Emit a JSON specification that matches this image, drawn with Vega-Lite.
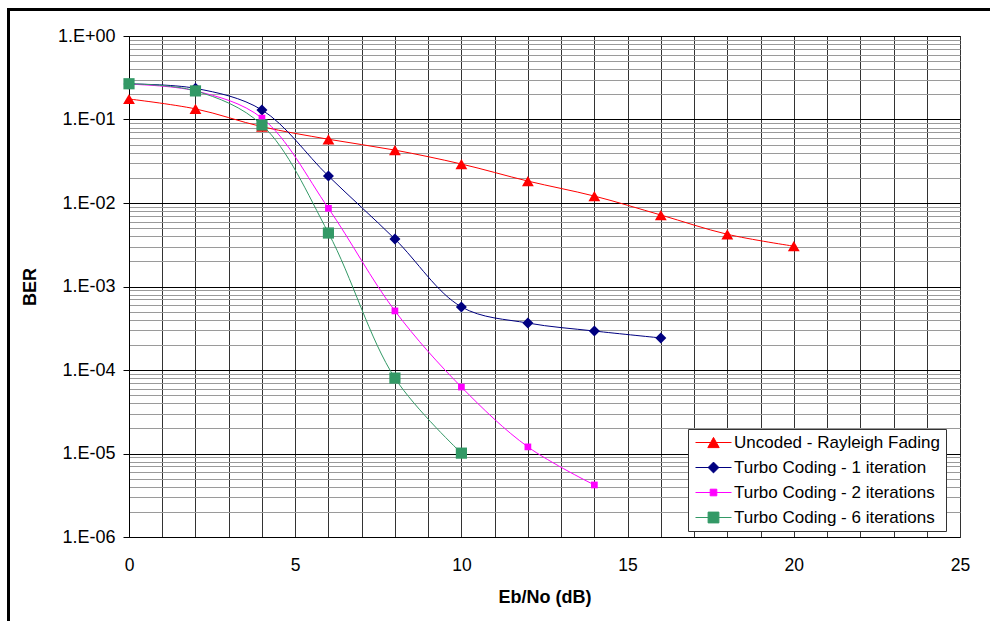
{
  "$schema": "https://vega.github.io/schema/vega-lite/v6.json",
  "autosize": {"type": "none"},
  "width": 831,
  "height": 501,
  "padding": {"left": 129, "top": 36, "right": 30, "bottom": 84},
  "background": "white",
  "config": {
    "font": "Liberation Sans",
    "view": {"stroke": "#555", "strokeWidth": 1}
  },
  "resolve": {"axis": {"x": "independent"}},
  "data": {
    "values": [
      {"s": "Uncoded - Rayleigh Fading", "x": 0, "ber": 0.176},
      {"s": "Uncoded - Rayleigh Fading", "x": 2, "ber": 0.134},
      {"s": "Uncoded - Rayleigh Fading", "x": 4, "ber": 0.082},
      {"s": "Uncoded - Rayleigh Fading", "x": 6, "ber": 0.058},
      {"s": "Uncoded - Rayleigh Fading", "x": 8, "ber": 0.043},
      {"s": "Uncoded - Rayleigh Fading", "x": 10, "ber": 0.0293},
      {"s": "Uncoded - Rayleigh Fading", "x": 12, "ber": 0.0183},
      {"s": "Uncoded - Rayleigh Fading", "x": 14, "ber": 0.0121},
      {"s": "Uncoded - Rayleigh Fading", "x": 16, "ber": 0.00718},
      {"s": "Uncoded - Rayleigh Fading", "x": 18, "ber": 0.00422},
      {"s": "Uncoded - Rayleigh Fading", "x": 20, "ber": 0.00304},
      {"s": "Turbo Coding - 1 iteration", "x": 0, "ber": 0.266},
      {"s": "Turbo Coding - 1 iteration", "x": 2, "ber": 0.236},
      {"s": "Turbo Coding - 1 iteration", "x": 4, "ber": 0.13},
      {"s": "Turbo Coding - 1 iteration", "x": 6, "ber": 0.021},
      {"s": "Turbo Coding - 1 iteration", "x": 8, "ber": 0.0037},
      {"s": "Turbo Coding - 1 iteration", "x": 10, "ber": 0.00057},
      {"s": "Turbo Coding - 1 iteration", "x": 12, "ber": 0.000365},
      {"s": "Turbo Coding - 1 iteration", "x": 14, "ber": 0.000293},
      {"s": "Turbo Coding - 1 iteration", "x": 16, "ber": 0.000242},
      {"s": "Turbo Coding - 2 iterations", "x": 0, "ber": 0.265},
      {"s": "Turbo Coding - 2 iterations", "x": 2, "ber": 0.22},
      {"s": "Turbo Coding - 2 iterations", "x": 4, "ber": 0.104},
      {"s": "Turbo Coding - 2 iterations", "x": 6, "ber": 0.00864},
      {"s": "Turbo Coding - 2 iterations", "x": 8, "ber": 0.00051},
      {"s": "Turbo Coding - 2 iterations", "x": 10, "ber": 0.0000625},
      {"s": "Turbo Coding - 2 iterations", "x": 12, "ber": 0.000012},
      {"s": "Turbo Coding - 2 iterations", "x": 14, "ber": 0.0000042},
      {"s": "Turbo Coding - 6 iterations", "x": 0, "ber": 0.268},
      {"s": "Turbo Coding - 6 iterations", "x": 2, "ber": 0.22},
      {"s": "Turbo Coding - 6 iterations", "x": 4, "ber": 0.086},
      {"s": "Turbo Coding - 6 iterations", "x": 6, "ber": 0.00437},
      {"s": "Turbo Coding - 6 iterations", "x": 8, "ber": 0.00008},
      {"s": "Turbo Coding - 6 iterations", "x": 10, "ber": 0.0000101}
    ]
  },
  "layer": [
    {
      "mark": {"type": "rect", "fill": null, "stroke": "black", "strokeWidth": 2, "clip": false},
      "encoding": {
        "x": {"datum": -3.63, "type": "quantitative", "axis": null},
        "x2": {"datum": 27},
        "y": {"datum": 2.09, "type": "quantitative"},
        "y2": {"datum": 1e-9}
      }
    },
    {
      "mark": {"type": "line", "strokeWidth": 1, "interpolate": "catmull-rom"},
      "encoding": {
        "x": {
          "field": "x", "type": "quantitative",
          "scale": {"domain": [0, 25], "nice": false, "zero": false},
          "axis": {
            "orient": "bottom",
            "values": [0,1,2,3,4,5,6,7,8,9,10,11,12,13,14,15,16,17,18,19,20,21,22,23,24,25],
            "grid": true, "gridColor": "#333", "gridWidth": 1, "gridOpacity": 1,
            "ticks": false, "domain": false, "labels": false, "title": null
          }
        },
        "y": {
          "field": "ber", "type": "quantitative",
          "scale": {"type": "log", "domain": [0.000001, 1], "nice": false},
          "axis": {
            "values": [0.000001,0.000002,0.000003,0.000004,0.000005,0.000006,0.000007,0.000008,0.000009,
                       0.00001,0.00002,0.00003,0.00004,0.00005,0.00006,0.00007,0.00008,0.00009,
                       0.0001,0.0002,0.0003,0.0004,0.0005,0.0006,0.0007,0.0008,0.0009,
                       0.001,0.002,0.003,0.004,0.005,0.006,0.007,0.008,0.009,
                       0.01,0.02,0.03,0.04,0.05,0.06,0.07,0.08,0.09,
                       0.1,0.2,0.3,0.4,0.5,0.6,0.7,0.8,0.9,1],
            "labelExpr": "datum.value === 1 ? '1.E+00' : datum.value === 0.1 ? '1.E-01' : datum.value === 0.01 ? '1.E-02' : datum.value === 0.001 ? '1.E-03' : datum.value === 0.0001 ? '1.E-04' : datum.value === 0.00001 ? '1.E-05' : datum.value === 0.000001 ? '1.E-06' : ''",
            "grid": true,
            "gridColor": {"condition": {"test": "indexof([1, 0.1, 0.01, 0.001, 0.0001, 0.00001, 0.000001], datum.value) >= 0", "value": "black"}, "value": "#9a9a9a"},
            "gridWidth": 1, "gridOpacity": 1,
            "ticks": true, "tickSize": 6,
            "tickColor": {"condition": {"test": "indexof([1, 0.1, 0.01, 0.001, 0.0001, 0.00001, 0.000001], datum.value) >= 0", "value": "black"}, "value": "transparent"},
            "domain": true, "domainColor": "black",
            "labelFontSize": 18, "labelColor": "black", "labelPadding": 8,
            "labelFlush": false, "labelOverlap": false,
            "title": "BER", "titleFontSize": 18, "titleFontWeight": "bold",
            "titleColor": "black", "titlePadding": 18
          }
        },
        "color": {
          "field": "s", "type": "nominal",
          "scale": {
            "domain": ["Uncoded - Rayleigh Fading", "Turbo Coding - 1 iteration", "Turbo Coding - 2 iterations", "Turbo Coding - 6 iterations"],
            "range": ["#FF0000", "#000080", "#FF00FF", "#339966"]
          },
          "legend": {
            "title": null,
            "orient": "none", "legendX": 559, "legendY": 393,
            "direction": "vertical",
            "padding": 5,
            "strokeColor": "#333", "fillColor": "white",
            "symbolSize": 144, "symbolStrokeWidth": 1, "symbolOpacity": 1,
            "labelFontSize": 17, "labelColor": "black", "labelOffset": 24, "labelLimit": 400,
            "rowPadding": 7,
            "encode": {
              "symbols": {
                "update": {
                  "shape": {"signal": "datum.value === 'Uncoded - Rayleigh Fading' ? 'M-1,0H5M2,-0.85L2.95,0.85L1.05,0.85Z' : datum.value === 'Turbo Coding - 1 iteration' ? 'M-1,0H5M2,-0.9L2.9,0L2,0.9L1.1,0Z' : datum.value === 'Turbo Coding - 2 iterations' ? 'M-1,0H5M1.45,-0.55H2.55V0.55H1.45Z' : 'M-1,0H5M1.1,-0.9H2.9V0.9H1.1Z'"},
                  "fill": {"scale": "color", "field": "value"},
                  "stroke": {"scale": "color", "field": "value"},
                  "strokeWidth": {"value": 1},
                  "opacity": {"value": 1}
                }
              }
            }
          }
        }
      }
    },
    {
      "transform": [{"filter": {"field": "s", "equal": "Uncoded - Rayleigh Fading"}}],
      "mark": {"type": "point", "shape": "triangle-up", "size": 140, "filled": true, "opacity": 1, "strokeWidth": 0},
      "encoding": {
        "x": {
          "field": "x", "type": "quantitative",
          "axis": {
            "orient": "bottom",
            "values": [0, 5, 10, 15, 20, 25],
            "grid": false, "ticks": false, "domain": false,
            "labelFontSize": 17.5, "labelColor": "black", "labelPadding": 19,
            "labelFlush": false, "labelOverlap": false,
            "title": "Eb/No (dB)", "titleFontSize": 18, "titleFontWeight": "bold",
            "titleColor": "black", "titlePadding": 15
          }
        },
        "y": {"field": "ber", "type": "quantitative"},
        "color": {"field": "s", "type": "nominal"}
      }
    },
    {
      "transform": [{"filter": {"field": "s", "equal": "Turbo Coding - 1 iteration"}}],
      "mark": {"type": "point", "shape": "diamond", "size": 121, "filled": true, "opacity": 1, "strokeWidth": 0},
      "encoding": {
        "x": {"field": "x", "type": "quantitative", "axis": null},
        "y": {"field": "ber", "type": "quantitative"},
        "color": {"field": "s", "type": "nominal"}
      }
    },
    {
      "transform": [{"filter": {"field": "s", "equal": "Turbo Coding - 2 iterations"}}],
      "mark": {"type": "point", "shape": "square", "size": 45, "filled": true, "opacity": 1, "strokeWidth": 0},
      "encoding": {
        "x": {"field": "x", "type": "quantitative", "axis": null},
        "y": {"field": "ber", "type": "quantitative"},
        "color": {"field": "s", "type": "nominal"}
      }
    },
    {
      "transform": [{"filter": {"field": "s", "equal": "Turbo Coding - 6 iterations"}}],
      "mark": {"type": "point", "shape": "square", "size": 125, "filled": true, "opacity": 1, "strokeWidth": 0},
      "encoding": {
        "x": {"field": "x", "type": "quantitative", "axis": null},
        "y": {"field": "ber", "type": "quantitative"},
        "color": {"field": "s", "type": "nominal"}
      }
    }
  ]
}
